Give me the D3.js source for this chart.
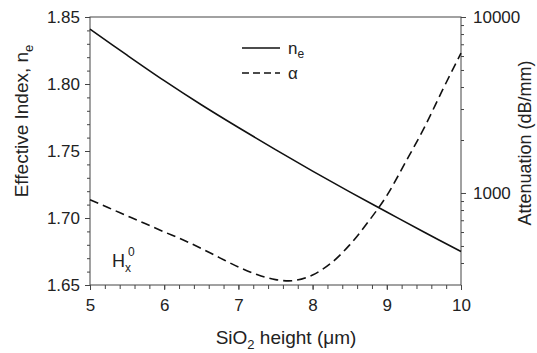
<!DOCTYPE html>
<html>
<head>
<meta charset="utf-8">
<script src="https://cdn.jsdelivr.net/npm/d3@7"></script>
<style>
  body { margin: 0; background: #fff; }
  svg text { font-family: "Liberation Sans", Arial, sans-serif; fill: #222; }
</style>
</head>
<body>
<div id="chart"></div>
<script>
// effective index n_e vs SiO2 height
var heightNe = [5, 5.5, 6, 6.5, 7, 7.5, 8, 8.5, 9, 9.5, 10];
var neValues = [1.841, 1.8215, 1.8025, 1.7845, 1.7675, 1.751, 1.735, 1.7195, 1.7045, 1.6895, 1.675];

// attenuation alpha (dB/mm) vs SiO2 height
var heightAlpha = [5, 5.25, 5.5, 5.75, 6, 6.25, 6.5, 6.75, 7, 7.25, 7.5, 7.75, 8, 8.25, 8.5, 8.75, 9, 9.25, 9.5, 9.75, 10];
var alphaValues = [916, 824, 742, 668, 601, 542, 484, 428, 380, 344, 322, 318, 342, 400, 507, 686, 966, 1490, 2330, 3840, 6240];

var xTicks = [5, 6, 7, 8, 9, 10];
var yLeftTicks = [1.65, 1.70, 1.75, 1.80, 1.85];
var yRightTicks = [1000, 10000];

var W = 537, H = 353;
var m = {left: 90, right: 76, top: 17, bottom: 68};
var pw = W - m.left - m.right, ph = H - m.top - m.bottom;

var svg = d3.select("#chart").append("svg")
    .attr("width", W).attr("height", H);
var g = svg.append("g").attr("transform", "translate(" + m.left + "," + m.top + ")");

var x = d3.scaleLinear().domain([5, 10]).range([0, pw]);
var yL = d3.scaleLinear().domain([1.65, 1.85]).range([ph, 0]);
var yR = d3.scaleLog().domain([300, 10000]).range([ph, 0]);

var axisColor = "#444";

// frame
g.append("rect").attr("width", pw).attr("height", ph)
    .attr("fill", "none").attr("stroke", axisColor).attr("stroke-width", 1);

// minor ticks
var xMinor = d3.range(5, 10.001, 0.2);
var yLMinor = d3.range(1.65, 1.8501, 0.01);
var yRMinor = [400, 500, 600, 700, 800, 900, 2000, 3000, 4000, 5000, 6000, 7000, 8000, 9000];

function styleAxis(sel) {
  sel.select(".domain").remove();
  sel.selectAll("line").attr("stroke", axisColor);
  sel.selectAll("text").style("font-size", "17px").attr("fill", "#222");
}

g.append("g").attr("transform", "translate(0," + ph + ")")
  .call(d3.axisBottom(x).tickValues(xMinor).tickSize(4).tickFormat(""))
  .call(styleAxis);
g.append("g").attr("transform", "translate(0," + ph + ")")
  .call(d3.axisBottom(x).tickValues(xTicks).tickSize(5).tickPadding(9).tickFormat(d3.format("d")))
  .call(styleAxis);

g.append("g")
  .call(d3.axisLeft(yL).tickValues(yLMinor).tickSize(3).tickFormat(""))
  .call(styleAxis);
g.append("g")
  .call(d3.axisLeft(yL).tickValues(yLeftTicks).tickSize(5).tickPadding(5).tickFormat(d3.format(".2f")))
  .call(styleAxis);

g.append("g").attr("transform", "translate(" + pw + ",0)")
  .call(d3.axisRight(yR).tickValues(yRMinor).tickSize(3).tickFormat(""))
  .call(styleAxis);
g.append("g").attr("transform", "translate(" + pw + ",0)")
  .call(d3.axisRight(yR).tickValues(yRightTicks).tickSize(5).tickPadding(7).tickFormat(d3.format("d")))
  .call(styleAxis);

// curves
var neLine = d3.line()
    .x(function(d, i) { return x(heightNe[i]); })
    .y(function(d) { return yL(d); })
    .curve(d3.curveCatmullRom.alpha(0.5));
var alphaLine = d3.line()
    .x(function(d, i) { return x(heightAlpha[i]); })
    .y(function(d) { return yR(d); })
    .curve(d3.curveCatmullRom.alpha(0.5));

g.append("path").datum(neValues).attr("d", neLine)
    .attr("fill", "none").attr("stroke", "#111").attr("stroke-width", 1.6);
g.append("path").datum(alphaValues).attr("d", alphaLine)
    .attr("fill", "none").attr("stroke", "#111").attr("stroke-width", 1.6)
    .attr("stroke-dasharray", "9,5");

// legend
var leg = svg.append("g").attr("transform", "translate(242,48)");
leg.append("line").attr("x1", 0).attr("x2", 38).attr("y1", 0).attr("y2", 0)
    .attr("stroke", "#111").attr("stroke-width", 1.6);
var t1 = leg.append("text").attr("x", 46).attr("y", 6).style("font-size", "17px");
t1.append("tspan").text("n");
t1.append("tspan").attr("dy", 4).style("font-size", "12px").text("e");
leg.append("line").attr("x1", 0).attr("x2", 38).attr("y1", 25).attr("y2", 25)
    .attr("stroke", "#111").attr("stroke-width", 1.6).attr("stroke-dasharray", "7,4");
leg.append("text").attr("x", 46).attr("y", 31).style("font-size", "17px").text("α");

// H_x^0 label
var hl = svg.append("text").attr("x", 112).attr("y", 267).style("font-size", "18px");
hl.append("tspan").text("H");
hl.append("tspan").attr("dy", 5).style("font-size", "12px").text("x");
hl.append("tspan").attr("dx", -3).attr("dy", -16).style("font-size", "12px").text("0");

// axis titles
var xt = svg.append("text").attr("x", 286).attr("y", 344)
    .attr("text-anchor", "middle").style("font-size", "19px");
xt.append("tspan").text("SiO");
xt.append("tspan").attr("dy", 5).style("font-size", "13px").text("2");
xt.append("tspan").attr("dy", -5).text(" height (μm)");

var lt = svg.append("text")
    .attr("transform", "translate(28,121) rotate(-90)")
    .attr("text-anchor", "middle").style("font-size", "19px");
lt.append("tspan").text("Effective Index, n");
lt.append("tspan").attr("dy", 5).style("font-size", "13px").text("e");

svg.append("text")
    .attr("transform", "translate(531,143) rotate(-90)")
    .attr("text-anchor", "middle").style("font-size", "18px")
    .text("Attenuation (dB/mm)");
</script>
</body>
</html>
